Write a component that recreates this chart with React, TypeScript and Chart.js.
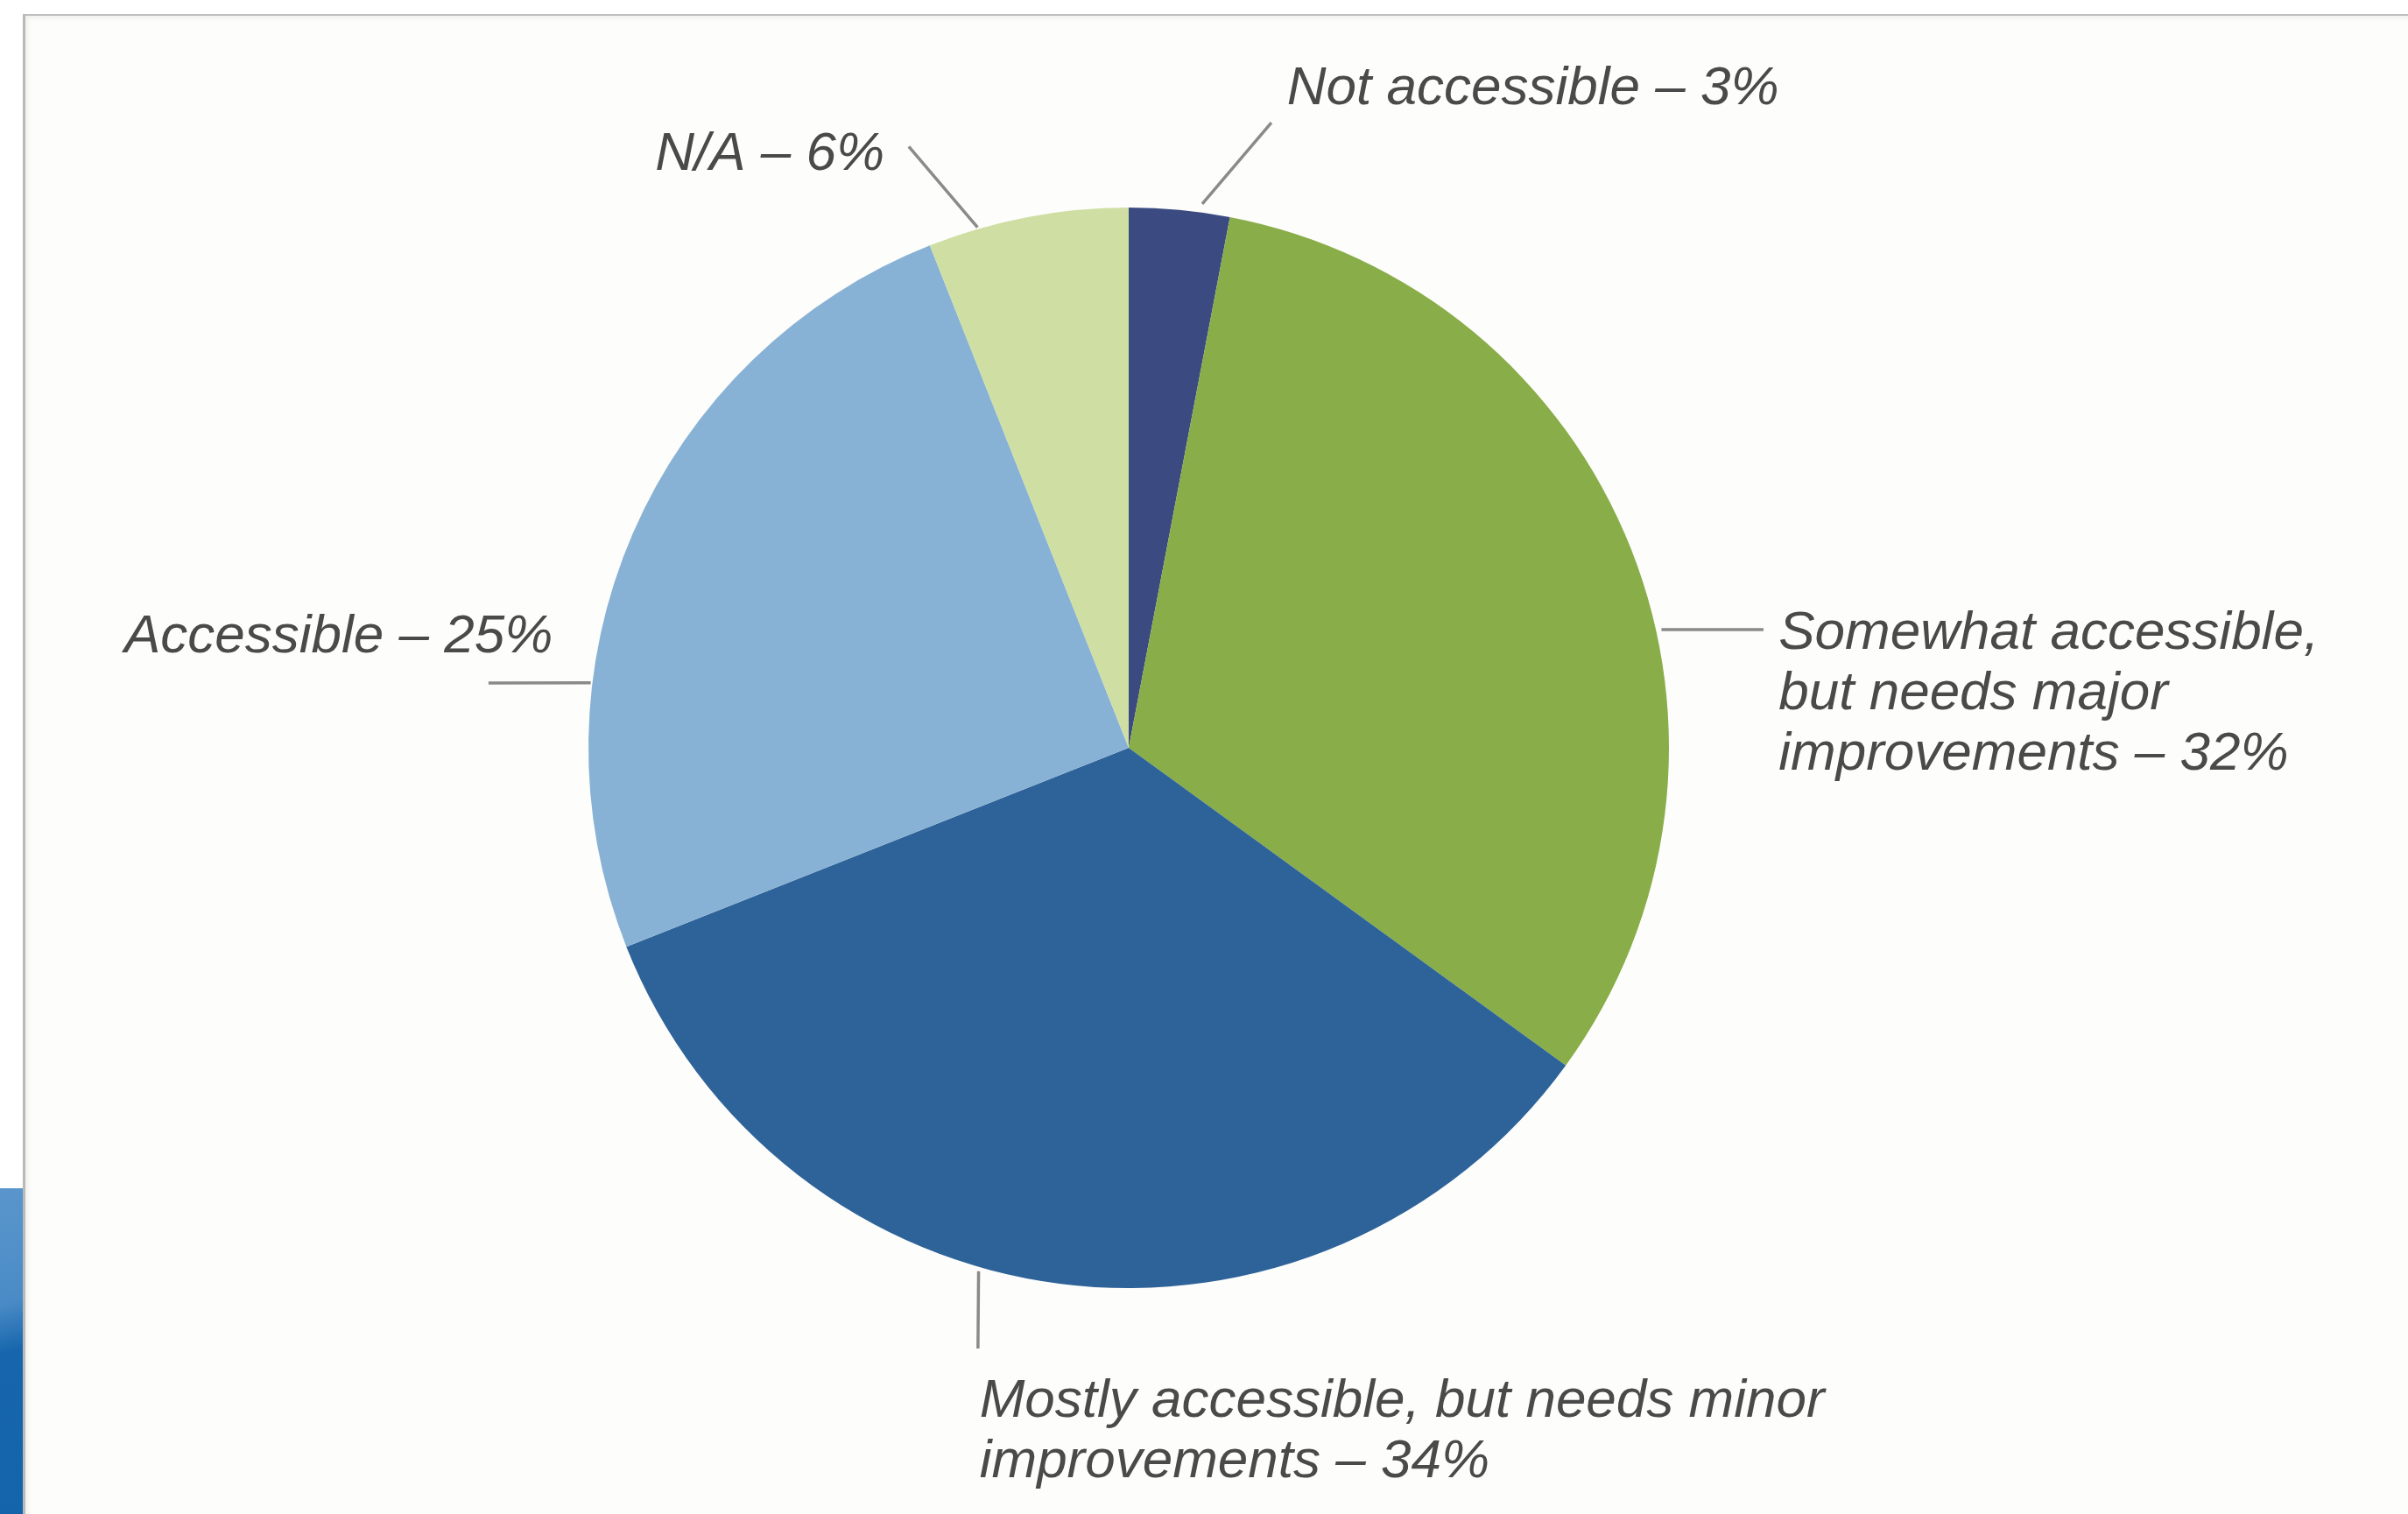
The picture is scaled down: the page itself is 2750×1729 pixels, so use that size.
import React, { useEffect, useRef } from "react";
import { Chart, registerables } from "chart.js";

Chart.register(...registerables);

// ---- data ----
const categories = [
  "Not accessible",
  "Somewhat accessible, but needs major improvements",
  "Mostly accessible, but needs minor improvements",
  "Accessible",
  "N/A",
];
const shares = [3, 32, 34, 25, 6];
const labelLines = [
  ["Not accessible"],
  ["Somewhat accessible,", "but needs major", "improvements"],
  ["Mostly accessible, but needs minor", "improvements"],
  ["Accessible"],
  ["N/A"],
];

// ---- style ----
const sliceColors = ["#3b4a80", "#89ad48", "#2e6399", "#88b2d5", "#cfdea3"];
// leader/label placement in units of the pie radius, relative to the centre
const labelLayout = [
  { angle: 7.7, rf: 1.016, end: [0.264, -1.157], text: [0.293, -1.219], align: "left" },
  { angle: 77.5, rf: 1.01, end: [1.175, -0.219], text: [1.203, -0.211], align: "left" },
  { angle: 196, rf: 1.008, end: [-0.279, 1.112], text: [-0.276, 1.211], align: "left" },
  { angle: 276.9, rf: 1.003, end: [-1.185, -0.12], text: [-1.066, -0.204], align: "right" },
  { angle: 343.8, rf: 1.003, end: [-0.407, -1.113], text: [-0.452, -1.097], align: "right" },
];
const FONT = 'italic 62px "Liberation Sans", Arial, Helvetica, sans-serif';
const LINE_H = 69;

const labelPlugin = {
  id: "leaderLabels",
  afterDraw(chart: any) {
    const meta = chart.getDatasetMeta(0);
    const arc0 = meta.data[0];
    if (!arc0) return;
    const cx = arc0.x;
    const cy = arc0.y;
    const R = arc0.outerRadius;
    const ctx = chart.ctx;
    ctx.save();
    labelLayout.forEach((L, i) => {
      const a = (L.angle * Math.PI) / 180;
      const sx = cx + L.rf * R * Math.sin(a);
      const sy = cy - L.rf * R * Math.cos(a);
      const ex = cx + L.end[0] * R;
      const ey = cy + L.end[1] * R;
      ctx.strokeStyle = "#8a8a8a";
      ctx.lineWidth = 3.5;
      ctx.beginPath();
      ctx.moveTo(sx, sy);
      ctx.lineTo(ex, ey);
      ctx.stroke();

      ctx.font = FONT;
      ctx.fillStyle = "#4a4a4a";
      ctx.textBaseline = "middle";
      ctx.textAlign = L.align as CanvasTextAlign;
      const lines = labelLines[i].slice();
      lines[lines.length - 1] = lines[lines.length - 1] + " – " + shares[i] + "%";
      const tx = cx + L.text[0] * R;
      const ty = cy + L.text[1] * R;
      lines.forEach((ln, k) => ctx.fillText(ln, tx, ty + k * LINE_H));
    });
    ctx.restore();
  },
};

export default function App() {
  const ref = useRef<HTMLCanvasElement | null>(null);
  useEffect(() => {
    if (!ref.current) return;
    const chart = new Chart(ref.current, {
      type: "pie",
      data: {
        labels: categories,
        datasets: [
          {
            data: shares,
            backgroundColor: sliceColors,
            borderWidth: 0,
          },
        ],
      },
      options: {
        responsive: false,
        animation: false,
        devicePixelRatio: 1,
        rotation: 0,
        layout: { padding: { top: 237, bottom: 258, left: 672, right: 844 } },
        plugins: {
          legend: { display: false },
          tooltip: { enabled: false },
        },
      },
      plugins: [labelPlugin],
    } as any);
    return () => chart.destroy();
  }, []);

  return (
    <div
      style={{
        position: "fixed",
        left: 0,
        top: 0,
        width: 2750,
        height: 1729,
        background: "#ffffff",
        overflow: "hidden",
      }}
    >
      <div
        style={{
          position: "absolute",
          left: 0,
          top: 1357,
          width: 28,
          height: 372,
          background:
            "linear-gradient(165deg, #5a96cd 0%, #4a8bc6 35%, #1766ad 50%, #1464ab 100%)",
        }}
      />
      <div
        style={{
          position: "absolute",
          left: 26,
          top: 16,
          right: -10,
          bottom: -10,
          borderLeft: "3px solid #b9b9b9",
          borderTop: "2px solid #bdbdbd",
          background: "#fdfdfb",
          boxShadow: "inset 3px 3px 5px rgba(0,0,0,0.06)",
        }}
      />
      <canvas
        ref={ref}
        width={2750}
        height={1729}
        style={{ position: "absolute", left: 0, top: 0, width: 2750, height: 1729 }}
      />
    </div>
  );
}
